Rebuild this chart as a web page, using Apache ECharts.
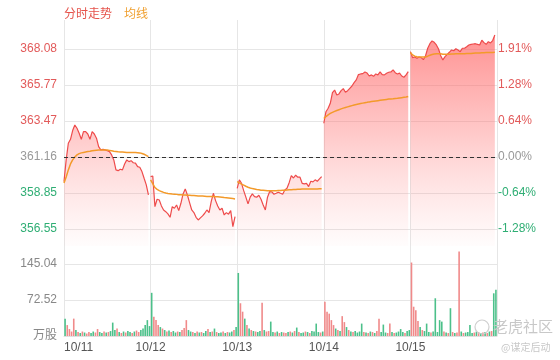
<!DOCTYPE html>
<html><head><meta charset="utf-8">
<script src="https://cdn.jsdelivr.net/npm/echarts@6/dist/echarts.min.js"></script>
<style>html,body{margin:0;padding:0;background:#fff}#c{width:560px;height:360px}</style>
</head><body><div id="c"></div>
<script>
const dates = ['10/11', '10/12', '10/13', '10/14', '10/15'];
const prevClose = 361.16;
const priceTicks = [356.55, 358.85, 361.16, 363.47, 365.77, 368.08];
const pctLabels = ['-1.28%', '-0.64%', '0.00%', '0.64%', '1.28%', '1.91%'];
const volTicks = [0, 72.52, 145.04];
const volTickLabels = ['万股', '72.52', '145.04'];

const price1 = [359.58,360.97,362.04,362.29,362.85,363.21,363.00,362.68,362.29,362.78,362.78,362.63,362.29,362.78,362.63,362.36,361.82,361.61,361.65,361.61,361.56,361.50,361.29,360.97,360.33,360.28,360.37,360.33,360.71,360.97,360.86,360.92,360.79,360.76,360.54,360.50,360.22,359.79,359.37,358.72];
const price2 = [359.90,359.94,357.97,358.45,358.40,358.02,357.76,357.65,357.51,357.29,357.97,357.87,358.08,357.72,358.19,358.79,359.11,358.72,358.23,357.76,357.59,357.29,357.12,357.25,357.38,357.55,357.76,357.59,358.29,358.83,358.36,358.02,357.76,357.87,357.44,357.59,357.49,357.72,356.69,357.33];
const price3 = [359.15,359.69,359.47,359.00,358.58,358.15,358.58,358.79,358.62,358.58,358.70,358.45,358.08,357.76,358.58,358.94,358.92,358.77,358.83,358.90,358.83,358.77,359.04,359.15,359.51,359.96,359.81,359.99,359.86,359.86,359.47,359.43,359.47,359.26,359.60,359.56,359.69,359.60,359.75,359.90];
const price4 = [363.32,364.06,364.28,364.60,365.28,365.45,365.13,365.20,365.41,365.54,365.31,365.41,365.56,365.71,365.92,366.10,366.44,366.48,366.50,366.61,366.54,366.35,366.42,366.33,366.48,366.42,366.61,366.44,366.42,366.53,366.59,366.61,366.74,366.56,366.48,366.53,366.35,366.27,366.42,366.63];
const price5 = [367.91,367.53,367.57,367.49,367.57,367.53,367.40,367.65,368.13,368.42,368.60,368.51,368.34,368.08,367.65,367.38,367.59,367.74,367.87,368.02,367.97,368.10,368.02,367.91,368.13,368.13,368.23,368.34,368.38,368.40,368.42,368.38,368.34,368.64,368.49,368.38,368.55,368.47,368.62,368.98];

const avg1 = [359.49,359.88,360.33,360.71,360.97,361.16,361.29,361.37,361.42,361.45,361.48,361.51,361.53,361.56,361.58,361.59,361.60,361.60,361.60,361.61,361.60,361.58,361.56,361.53,361.51,361.49,361.48,361.47,361.46,361.45,361.45,361.45,361.44,361.44,361.43,361.42,361.38,361.33,361.26,361.18];
const avg2 = [359.69,359.45,359.20,359.08,359.00,358.94,358.89,358.85,358.82,358.80,358.78,358.77,358.76,358.74,358.73,358.72,358.72,358.71,358.70,358.69,358.68,358.67,358.66,358.66,358.65,358.64,358.63,358.63,358.62,358.62,358.61,358.60,358.59,358.58,358.56,358.55,358.53,358.51,358.49,358.47];
const avg3 = [359.58,359.50,359.42,359.35,359.28,359.22,359.17,359.13,359.10,359.07,359.05,359.03,359.02,359.01,359.00,359.00,359.00,359.00,359.00,359.01,359.01,359.02,359.03,359.04,359.05,359.06,359.07,359.08,359.09,359.09,359.10,359.10,359.10,359.11,359.11,359.11,359.11,359.11,359.12,359.12];
const avg4 = [363.62,363.75,363.86,363.95,364.02,364.08,364.14,364.19,364.24,364.29,364.33,364.37,364.41,364.45,364.49,364.52,364.55,364.58,364.61,364.64,364.66,364.69,364.71,364.73,364.75,364.77,364.79,364.81,364.83,364.85,364.87,364.88,364.89,364.91,364.92,364.94,364.96,364.98,365.00,365.03];
const avg5 = [367.85,367.70,367.62,367.58,367.57,367.57,367.56,367.57,367.62,367.68,367.73,367.76,367.78,367.78,367.77,367.75,367.75,367.75,367.75,367.76,367.76,367.77,367.77,367.77,367.78,367.78,367.79,367.80,367.80,367.81,367.82,367.82,367.83,367.84,367.84,367.85,367.85,367.86,367.86,367.87];

const vol1 = [35,22,14,9,35,12,8,6,9,7,5,8,6,9,7,14,8,6,9,7,8,10,27,12,15,8,6,9,7,10,8,6,9,11,8,12,15,22,32,20];
const vol2 = [87,39,32,22,18,15,12,9,11,8,10,7,9,8,12,16,32,12,9,8,6,9,7,8,6,10,14,8,9,15,8,6,7,9,6,8,7,9,12,18];
const vol3 = [127,66,49,35,22,15,12,10,9,8,10,67,12,9,10,29,8,7,9,6,8,7,6,8,9,7,10,17,8,6,7,9,8,6,10,9,25,8,7,9];
const vol4 = [69,49,45,32,22,15,12,10,40,28,18,12,9,8,10,7,9,25,8,7,6,9,8,6,10,35,8,23,7,6,25,8,6,7,9,14,8,6,10,12];
const vol5 = [148,59,52,30,18,12,10,25,8,7,9,76,8,32,29,9,7,6,56,8,6,7,170,9,6,7,8,22,6,7,9,8,6,7,8,6,9,10,86,93];
// r = up (red), g = down (green)
const dir1 = 'grrrrgrgrgrrggrrggrgrgggrgrgrggrgrrggggg';
const dir2 = 'grrrgrgrgrggrgrrrggrgrgrggrgrgrggrgrggrg';
const dir3 = 'grrgrgrgrggrgrrggrgrgrrgrgrgrggrgrggggrg';
const dir4 = 'rrrrrgrgrrgrgrggggrgrgrgrrgggrrgrggggrgg';
const dir5 = 'rrrrgrgggrgggggrgrgrgrrgrggggrgrgrgrgrgg';

const PER_DAY = 40;
const prices = [price1, price2, price3, price4, price5];
const avgs = [avg1, avg2, avg3, avg4, avg5];
const vols = [vol1, vol2, vol3, vol4, vol5];
const dirs = [dir1, dir2, dir3, dir4, dir5];

function buildLine(days) {
  const out = [];
  days.forEach((arr, d) => {
    arr.forEach((v, i) => out.push([d * PER_DAY + i, v]));
    if (d < days.length - 1) out.push([d * PER_DAY + PER_DAY - 0.5, '-']);
  });
  return out;
}
const volData = [];
vols.forEach((arr, d) => arr.forEach((v, i) => {
  volData.push({ value: [d * PER_DAY + i + 0.5, v], itemStyle: { color: dirs[d][i] === 'r' ? '#f08a8a' : '#4cc08a' } });
}));

const RED = '#e25a5a', GREEN = '#2fae74', GRAY = '#999';
const FONT = 'Arial, "Liberation Sans", "Noto Sans CJK SC", sans-serif';
function near(a, b) { return Math.abs(a - b) < 1e-6; }

const chart = echarts.init(document.getElementById('c'), null, { renderer: 'canvas' });
chart.setOption({
  animation: false,
  backgroundColor: '#fff',
  textStyle: { fontFamily: FONT },
  legend: {
    left: 54, top: 3, icon: 'none', itemWidth: 0, itemGap: 7,
    textStyle: { fontSize: 12, fontFamily: FONT },
    data: [
      { name: '分时走势', textStyle: { color: '#e5534b' } },
      { name: '均线', textStyle: { color: '#f0a030' } }
    ]
  },
  grid: [
    { left: 64, right: 63, top: 20, height: 226 },
    { left: 64, right: 63, top: 246, bottom: 24 }
  ],
  xAxis: [
    { type: 'value', gridIndex: 0, min: 0, max: PER_DAY * 5, interval: PER_DAY,
      axisLabel: { show: false }, axisTick: { show: false }, axisLine: { show: false },
      splitLine: { show: true, lineStyle: { color: '#e6e6e6' } } },
    { type: 'value', gridIndex: 1, min: 0, max: PER_DAY * 5, interval: PER_DAY,
      axisTick: { show: false },
      axisLine: { show: true, lineStyle: { color: '#e0e0e0' } },
      splitLine: { show: true, lineStyle: { color: '#e6e6e6' } },
      axisLabel: { show: true, color: '#555', fontSize: 12, margin: 6, alignMinLabel: 'left',
        formatter: v => dates[Math.round(v / PER_DAY)] || '' } }
  ],
  yAxis: [
    { type: 'value', gridIndex: 0, min: 355.45, max: 369.94, position: 'left',
      axisLine: { show: false }, axisTick: { show: false, customValues: priceTicks },
      splitLine: { show: true, lineStyle: { color: '#e6e6e6' } },
      axisLabel: { customValues: priceTicks, fontSize: 12, margin: 7,
        formatter: v => v.toFixed(2),
        color: v => near(v, prevClose) ? GRAY : (v > prevClose ? RED : GREEN) } },
    { type: 'value', gridIndex: 0, min: 355.45, max: 369.94, position: 'right',
      axisLine: { show: false }, axisTick: { show: false, customValues: priceTicks },
      splitLine: { show: false },
      axisLabel: { customValues: priceTicks, fontSize: 12, margin: 1,
        formatter: v => { const k = priceTicks.findIndex(t => near(t, v)); return k >= 0 ? pctLabels[k] : ''; },
        color: v => near(v, prevClose) ? GRAY : (v > prevClose ? RED : GREEN) } },
    { type: 'value', gridIndex: 1, min: 0, max: 181.3,
      axisLine: { show: false }, axisTick: { show: false, customValues: volTicks },
      splitLine: { show: true, lineStyle: { color: '#e6e6e6' } },
      axisLabel: { customValues: volTicks, fontSize: 12, margin: 7, color: '#888',
        formatter: v => { const k = volTicks.findIndex(t => near(t, v)); return k >= 0 ? volTickLabels[k] : ''; } } }
  ],
  series: [
    { name: '分时走势', type: 'line', xAxisIndex: 0, yAxisIndex: 0, data: buildLine(prices),
      showSymbol: false, symbol: 'none', connectNulls: false,
      lineStyle: { color: '#ee4b4b', width: 1.2 }, itemStyle: { color: '#e5534b' },
      areaStyle: { color: new echarts.graphic.LinearGradient(0, 0, 0, 1, [
        { offset: 0, color: 'rgba(255,90,90,0.95)' },
        { offset: 0.45, color: 'rgba(255,110,110,0.55)' },
        { offset: 1, color: 'rgba(255,140,140,0.03)' }]) },
      markLine: { silent: true, symbol: 'none', label: { show: false },
        lineStyle: { color: '#333', type: [4, 3], width: 1 },
        data: [{ yAxis: prevClose }] },
      z: 2 },
    { name: '均线', type: 'line', xAxisIndex: 0, yAxisIndex: 0, data: buildLine(avgs),
      showSymbol: false, symbol: 'none', connectNulls: false,
      lineStyle: { color: '#f39a2a', width: 1.5 }, itemStyle: { color: '#f0a030' }, z: 3 },
    { name: 'vol', type: 'bar', xAxisIndex: 1, yAxisIndex: 2, data: volData, barWidth: 1.6 }
  ],
  graphic: [
    { type: 'circle', shape: { cx: 482, cy: 327, r: 7 }, style: { fill: 'none', stroke: '#cfcfcf', lineWidth: 1.2 }, z: 100 },
    { type: 'text', left: 493, top: 319, z: 100, style: { text: '老虎社区', fill: '#c8c8c8', font: '15px "Noto Sans CJK SC"' } },
    { type: 'text', left: 501, top: 342, z: 100, style: { text: '@谋定后动', fill: '#c8c8c8', font: '10px "Noto Sans CJK SC"' } }
  ]
});
</script></body></html>
